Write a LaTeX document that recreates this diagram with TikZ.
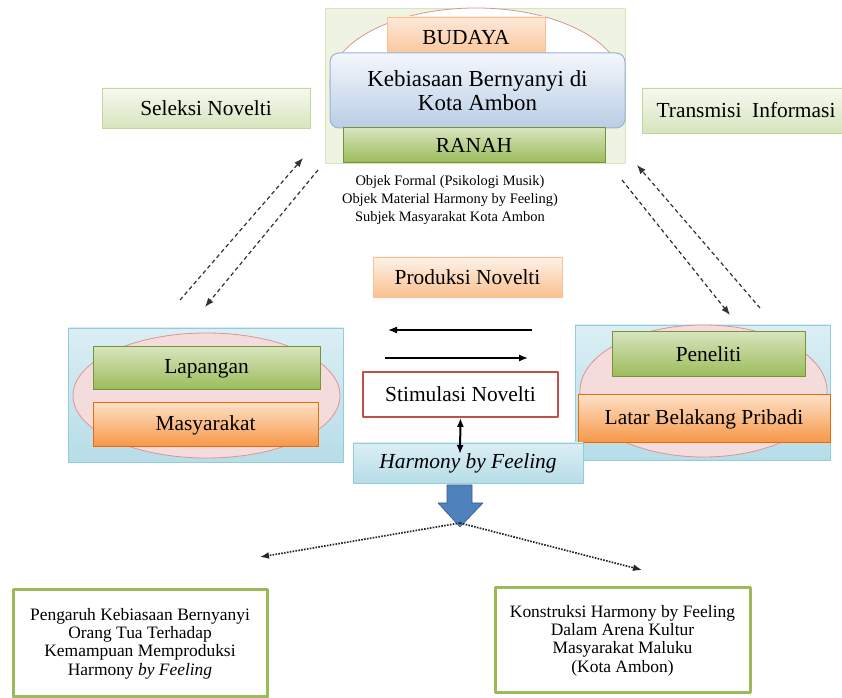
\documentclass[tikz,border=0pt]{standalone}
\usepackage{fontspec}
\setmainfont{Liberation Serif}
\usetikzlibrary{shapes.geometric,arrows.meta}
\definecolor{gtop}{HTML}{D7E4BD}
\definecolor{gbot}{HTML}{9BBB59}
\definecolor{gline}{HTML}{77933C}
\definecolor{otop}{HTML}{FDE0C5}
\definecolor{obot}{HTML}{F79646}
\definecolor{oline}{HTML}{E46C0A}
\definecolor{ltop}{HTML}{FDEADA}
\definecolor{lbot}{HTML}{FAC090}
\definecolor{btop}{HTML}{F4F7FC}
\definecolor{bbot}{HTML}{B9CDE5}
\definecolor{bline}{HTML}{95B3D7}
\definecolor{ptop}{HTML}{DBEEF4}
\definecolor{pbot}{HTML}{B7DDE8}
\definecolor{pline}{HTML}{93CDDD}
\definecolor{efill}{HTML}{F5DCDC}
\definecolor{eline}{HTML}{D99694}
\definecolor{ffill}{HTML}{EEF3E2}
\definecolor{stop}{HTML}{F6F9F0}
\definecolor{sline}{HTML}{C3D69B}
\definecolor{rline}{HTML}{C0504D}
\definecolor{arrowblue}{HTML}{4F81BD}
\definecolor{arrowline}{HTML}{385D8A}
\begin{document}
\begin{tikzpicture}[>={Latex[length=9bp,width=7bp]},line join=bevel,
  lbl/.style={inner sep=0pt,text=black,font=\fontsize{21.5}{23}\selectfont},
  greenbox/.style={lbl,draw=gline,top color=gtop,bottom color=gbot,line width=1bp},
  orangebox/.style={lbl,draw=oline,top color=otop,bottom color=obot,line width=1bp},
  lightorange/.style={lbl,draw=lbot,top color=ltop,bottom color=lbot,line width=0.8bp},
  softgreen/.style={lbl,draw=sline,top color=stop,bottom color=gtop,line width=0.8bp},
  panel/.style={draw=pline,top color=ptop,bottom color=pbot,line width=0.8bp},
  oval/.style={ellipse,draw=eline,fill=efill,inner sep=0pt,line width=0.8bp},
  dashlink/.style={->,black!80,line width=1.2bp,dash pattern=on 4bp off 3bp},
  dotlink/.style={->,black!85,line width=1.7bp,dash pattern=on 1.6bp off 1.3bp},
  resultbox/.style={draw=gbot,line width=3bp,fill=white,inner sep=0pt,align=center,font=\fontsize{17.5}{18.3}\selectfont},
]
\useasboundingbox (0bp,0bp) rectangle (842bp,698bp);
%%
\node (node_frame) at (475bp,612.5bp) [draw=gtop,fill=ffill,minimum width=300bp,minimum height=155bp] {};
\node (node_oval_top) at (476bp,615bp) [oval,fill=white,minimum width=292bp,minimum height=150bp] {};
\node (node_budaya) at (466bp,659.5bp) [lightorange,minimum width=158bp,minimum height=43bp] {};
\node (node_budaya_text) at (466bp,660bp) [lbl] {BUDAYA};
\node (node_kebiasaan) at (477.5bp,607.5bp) [lbl,font=\fontsize{23}{23.5}\selectfont,draw=bline,top color=btop,bottom color=bbot,rounded corners=9bp,line width=1bp,minimum width=295bp,minimum height=75bp,align=center] {Kebiasaan Bernyanyi di\\Kota Ambon};
\node (node_ranah) at (474bp,552.5bp) [greenbox,minimum width=262bp,minimum height=35bp] {RANAH};
\node (node_objek) at (450bp,498bp) [inner sep=0pt,align=center,font=\fontsize{14.5}{18}\selectfont] {Objek Formal (Psikologi Musik)\\Objek Material Harmony by Feeling)\\Subjek Masyarakat Kota Ambon};
%
\node (node_seleksi) at (206bp,590bp) [softgreen,minimum width=208bp,minimum height=40bp] {Seleksi Novelti};
\node (node_transmisi) at (746bp,587.5bp) [softgreen,minimum width=208bp,minimum height=45bp] {Transmisi\ \ Informasi};
%
\node (node_panel_left) at (205.5bp,303bp) [panel,minimum width=275bp,minimum height=134bp] {};
\node (node_oval_left) at (206.5bp,302.5bp) [oval,minimum width=267bp,minimum height=125bp] {};
\node (node_lapangan) at (206.5bp,329.5bp) [greenbox,minimum width=227bp,minimum height=43bp] {Lapangan};
\node (node_masyarakat) at (205.5bp,273bp) [orangebox,minimum width=225bp,minimum height=44bp] {Masyarakat};
%
\node (node_panel_right) at (702.5bp,305.5bp) [panel,minimum width=255bp,minimum height=135bp] {};
\node (node_oval_right) at (703.5bp,307bp) [oval,minimum width=247bp,minimum height=132bp] {};
\node (node_peneliti) at (708.5bp,343.5bp) [greenbox,minimum width=193bp,minimum height=45bp] {Peneliti};
\node (node_latar) at (704bp,279bp) [orangebox,minimum width=252bp,minimum height=48bp] {Latar Belakang Pribadi};
%
\node (node_produksi) at (467.5bp,421bp) [lightorange,top color=ltop!60,minimum width=189bp,minimum height=40bp] {Produksi Novelti};
\node (node_stimulasi) at (460.5bp,303.5bp) [lbl,draw=rline,fill=white,line width=1.8bp,minimum width=195bp,minimum height=45bp] {Stimulasi Novelti};
\node (node_harmony) at (468bp,235bp) [lbl,draw=pline,top color=ptop,bottom color=pbot,line width=0.8bp,minimum width=230bp,minimum height=40bp] {\textit{Harmony by Feeling}};
%
\node (node_pengaruh) at (140bp,54.5bp) [resultbox,minimum width=254bp,minimum height=107bp] {Pengaruh Kebiasaan Bernyanyi\\Orang Tua Terhadap\\Kemampuan Memproduksi\\Harmony \textit{by Feeling}};
\node (node_konstruksi) at (622.5bp,57.5bp) [resultbox,minimum width=255bp,minimum height=105bp] {Konstruksi Harmony by Feeling\\Dalam Arena Kultur\\Masyarakat Maluku\\(Kota Ambon)};
%
\coordinate (sel_a) at (180bp,398bp);
\coordinate (sel_b) at (303bp,540bp);
\coordinate (sel_c) at (318bp,528bp);
\coordinate (sel_d) at (205bp,391bp);
\coordinate (tra_a) at (760bp,390bp);
\coordinate (tra_b) at (637bp,533bp);
\coordinate (tra_c) at (622bp,518bp);
\coordinate (tra_d) at (730bp,383bp);
\draw [dashlink] (sel_a) -- (sel_b);
\draw [dashlink] (sel_c) -- (sel_d);
\draw [dashlink] (tra_a) -- (tra_b);
\draw [dashlink] (tra_c) -- (tra_d);
%
\coordinate (prod_r) at (532bp,368bp);
\coordinate (prod_l) at (388bp,368bp);
\coordinate (stim_l) at (385bp,340bp);
\coordinate (stim_r) at (528bp,340bp);
\draw [black,->,line width=1.3bp] (prod_r) -- (prod_l);
\draw [black,->,line width=1.3bp] (stim_l) -- (stim_r);
\coordinate (harm_in) at (460bp,244bp);
\draw [black,<->,line width=2bp] (node_stimulasi.south) -- (harm_in);
%
\filldraw [fill=arrowblue,draw=arrowline,line width=0.6bp] (447bp,213bp) -- (472bp,213bp) -- (472bp,195bp) -- (483bp,195bp) -- (460bp,171bp) -- (438bp,195bp) -- (447bp,195bp) -- cycle;
\coordinate (node_tip) at (460bp,175bp);
\coordinate (left_end) at (260bp,141bp);
\coordinate (right_end) at (642bp,128bp);
\draw [dotlink] (node_tip) -- (left_end);
\draw [dotlink] (node_tip) -- (right_end);
%
\end{tikzpicture}
\end{document}
